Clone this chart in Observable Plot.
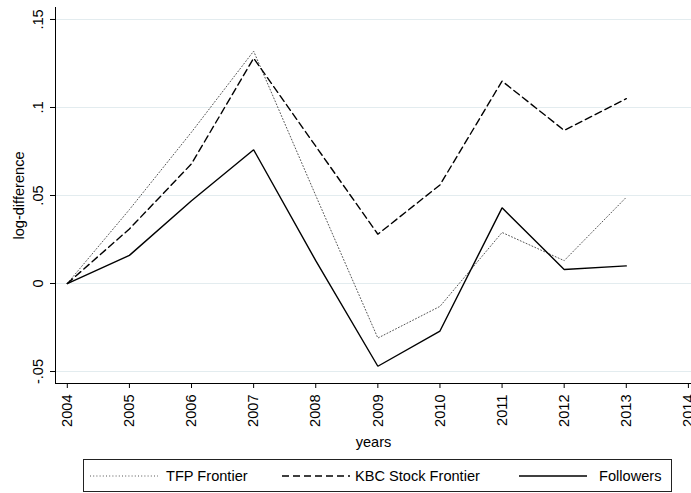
<!DOCTYPE html>
<html>
<head>
<meta charset="utf-8">
<script src="https://cdn.jsdelivr.net/npm/d3@7"></script>
<script src="https://cdn.jsdelivr.net/npm/@observablehq/plot@0.6"></script>
<style>
  html, body { margin: 0; padding: 0; background: #fff; }
  body { width: 691px; height: 493px; position: relative; overflow: hidden; font-family: "Liberation Sans", Arial, sans-serif; }
  #legend { position: absolute; left: 83px; top: 459px; width: 587px; height: 31px; border: 1px solid #222; box-sizing: content-box; font-size: 14.6px; color: #000; }
  #legend .item { position: absolute; top: 0; height: 31px; display: flex; align-items: center; }
  #legend svg { display: block; }
</style>
</head>
<body>
<div id="chart"></div>
<div id="legend"></div>
<script>
const years = [2004, 2005, 2006, 2007, 2008, 2009, 2010, 2011, 2012, 2013];
const tfpFrontier = [0, 0.042, 0.086, 0.132, 0.050, -0.031, -0.013, 0.029, 0.013, 0.049];
const kbcFrontier = [0, 0.031, 0.068, 0.128, 0.078, 0.028, 0.056, 0.115, 0.087, 0.105];
const followers  = [0, 0.016, 0.047, 0.076, 0.013, -0.047, -0.027, 0.043, 0.008, 0.010];
const seriesNames = ["TFP Frontier", "KBC Stock Frontier", "Followers"];
const xTicks = [2004, 2005, 2006, 2007, 2008, 2009, 2010, 2011, 2012, 2013, 2014];
const yTicks = [-0.05, 0, 0.05, 0.1, 0.15];
const yTickLabels = ["-.05", "0", ".05", ".1", ".15"];

const xDomain = [2003.81, 2014.05];
const yDomain = [-0.0568, 0.1568];

const styles = {
  "TFP Frontier": {stroke: "#555", strokeWidth: 1, strokeDasharray: "1,2.2"},
  "KBC Stock Frontier": {stroke: "#000", strokeWidth: 1.4, strokeDasharray: "7,4"},
  "Followers": {stroke: "#000", strokeWidth: 1.4, strokeDasharray: null}
};
const allSeries = [tfpFrontier, kbcFrontier, followers];
const rows = (i) => years.map((y, j) => ({year: y, value: allSeries[i][j]}));

const lineMarks = seriesNames.map((name, i) =>
  Plot.line(rows(i), {x: "year", y: "value", ...styles[name], strokeLinejoin: "miter"})
);

const chart = Plot.plot({
  width: 691,
  height: 450,
  marginLeft: 55,
  marginRight: 0,
  marginTop: 7,
  marginBottom: 67,
  style: {fontFamily: "Liberation Sans, Arial, sans-serif", fontSize: "14.6px", background: "#fff", color: "#000"},
  x: {domain: xDomain},
  y: {domain: yDomain},
  marks: [
    Plot.gridY(yTicks, {stroke: "#e3ecef", strokeOpacity: 1, strokeWidth: 1}),
    Plot.ruleX([xDomain[0]], {stroke: "#000", strokeWidth: 1}),
    Plot.ruleY([yDomain[0]], {stroke: "#000", strokeWidth: 1}),
    Plot.axisY({
      ticks: yTicks,
      tickFormat: (d) => yTickLabels[yTicks.indexOf(d)] ?? d,
      tickRotate: -90,
      tickSize: 5,
      tickPadding: 8,
      label: "log-difference",
      labelAnchor: "center",
      labelArrow: "none",
      labelOffset: 42
    }),
    Plot.axisX({
      ticks: xTicks,
      tickFormat: (d) => String(d),
      tickRotate: -90,
      tickSize: 5,
      tickPadding: 6,
      label: "years",
      labelAnchor: "center",
      labelArrow: "none",
      labelOffset: 63
    }),
    ...lineMarks
  ]
});
document.getElementById("chart").appendChild(chart);

// Legend
const legend = document.getElementById("legend");
const legendPos = [
  {sample: 6, text: 82},
  {sample: 198, text: 271},
  {sample: 435, text: 515}
];
seriesNames.forEach((name, i) => {
  const s = styles[name];
  const sw = document.createElement("div");
  sw.className = "item";
  sw.style.left = legendPos[i].sample + "px";
  const ns = "http://www.w3.org/2000/svg";
  const svg = document.createElementNS(ns, "svg");
  svg.setAttribute("width", 70);
  svg.setAttribute("height", 10);
  const ln = document.createElementNS(ns, "line");
  ln.setAttribute("x1", 0); ln.setAttribute("x2", 68);
  ln.setAttribute("y1", 5); ln.setAttribute("y2", 5);
  ln.setAttribute("stroke", s.stroke);
  ln.setAttribute("stroke-width", s.strokeWidth);
  if (s.strokeDasharray) ln.setAttribute("stroke-dasharray", s.strokeDasharray);
  svg.appendChild(ln);
  sw.appendChild(svg);
  legend.appendChild(sw);
  const tx = document.createElement("div");
  tx.className = "item";
  tx.style.left = legendPos[i].text + "px";
  tx.textContent = name;
  legend.appendChild(tx);
});
</script>
</body>
</html>
